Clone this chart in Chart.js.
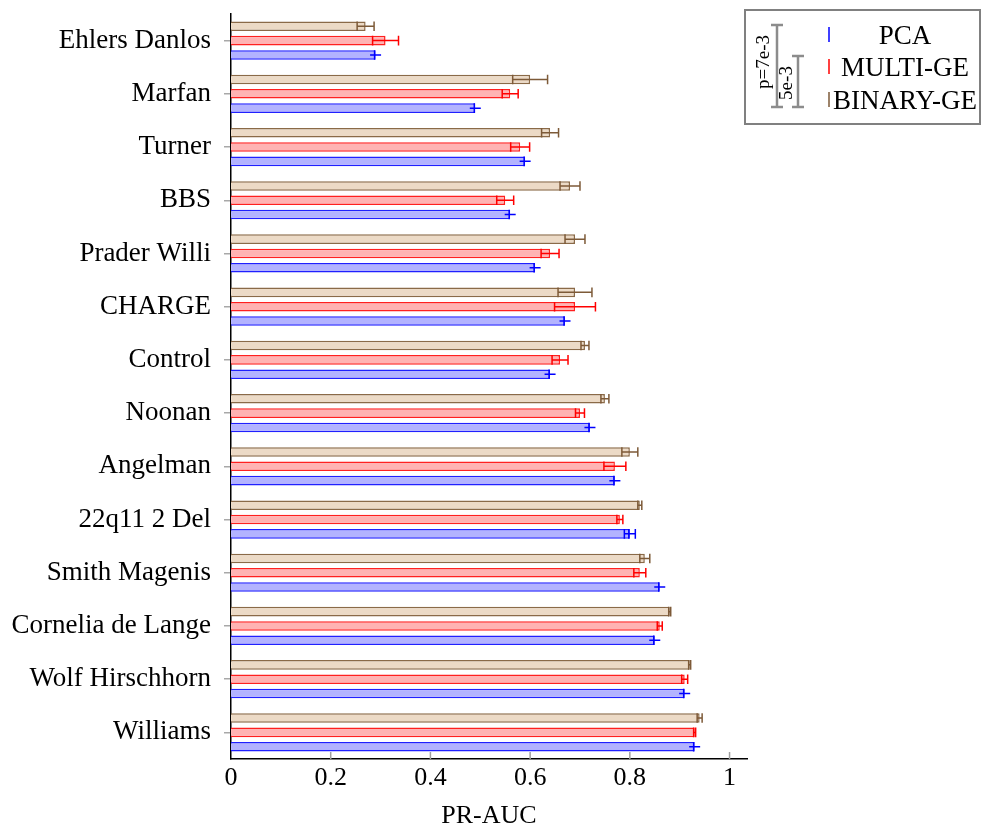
<!DOCTYPE html>
<html>
<head>
<meta charset="utf-8">
<script src="https://cdn.jsdelivr.net/npm/chart.js@4/dist/chart.umd.min.js"></script>
<style>
  html, body { margin: 0; padding: 0; background: #fff; }
  canvas { display: block; }
</style>
</head>
<body>
<canvas id="myChart" width="982" height="827"></canvas>
<script>
// syndromes, top to bottom
const categories = ["Ehlers Danlos", "Marfan", "Turner", "BBS", "Prader Willi", "CHARGE", "Control",
  "Noonan", "Angelman", "22q11 2 Del", "Smith Magenis", "Cornelia de Lange", "Wolf Hirschhorn", "Williams"];

const pcaValues    = [0.29, 0.49, 0.59, 0.56, 0.61, 0.67, 0.64, 0.72, 0.77, 0.80, 0.86, 0.85, 0.91, 0.93];
const pcaErrors    = [0.003, 0.003, 0.003, 0.003, 0.003, 0.003, 0.003, 0.003, 0.003, 0.011, 0.003, 0.003, 0.003, 0.003];
const multiValues  = [0.31, 0.56, 0.58, 0.55, 0.64, 0.69, 0.66, 0.70, 0.77, 0.78, 0.82, 0.86, 0.91, 0.93];
const multiErrors  = [0.026, 0.016, 0.019, 0.017, 0.018, 0.041, 0.016, 0.009, 0.022, 0.006, 0.012, 0.005, 0.006, 0.002];
const binaryValues = [0.27, 0.60, 0.64, 0.68, 0.69, 0.69, 0.71, 0.75, 0.80, 0.82, 0.83, 0.88, 0.92, 0.94];
const binaryErrors = [0.017, 0.035, 0.017, 0.020, 0.020, 0.034, 0.008, 0.008, 0.016, 0.004, 0.010, 0.002, 0.002, 0.005];

const xTicks = [0, 0.2, 0.4, 0.6, 0.8, 1];

const serif = '"Liberation Serif", "Times New Roman", serif';

// error bars, drawn through the x scale
const errorBars = {
    id: 'errorBars',
    afterDatasetsDraw(chart) {
        const ctx = chart.ctx;
        const xs = chart.scales.x;
        chart.data.datasets.forEach((ds, i) => {
            const meta = chart.getDatasetMeta(i);
            ctx.save();
            ctx.strokeStyle = ds.errorColor;
            ctx.lineWidth = 1.5;
            meta.data.forEach((bar, j) => {
                const v = ds.data[j], e = ds.errors[j];
                const lo = xs.getPixelForValue(v - e);
                const hi = xs.getPixelForValue(v + e);
                const h = bar.height / 2;
                ctx.beginPath();
                ctx.moveTo(lo, bar.y); ctx.lineTo(hi, bar.y);
                // tiny blue errors only show the '+' mark
                if (!ds.plusMark || hi - lo > 8) {
                    ctx.moveTo(lo, bar.y - h); ctx.lineTo(lo, bar.y + h);
                    ctx.moveTo(hi, bar.y - h); ctx.lineTo(hi, bar.y + h);
                }
                if (ds.plusMark) {
                    const px = xs.getPixelForValue(v);
                    ctx.moveTo(px - 5.5, bar.y); ctx.lineTo(px + 5.5, bar.y);
                    ctx.moveTo(px - 1, bar.y - h); ctx.lineTo(px - 1, bar.y + h);
                }
                ctx.stroke();
            });
            ctx.restore();
        });
    }
};

// x ticks point inwards
const innerTicks = {
    id: 'innerTicks',
    afterDraw(chart) {
        const ctx = chart.ctx;
        const xs = chart.scales.x;
        const bottom = chart.chartArea.bottom;
        ctx.save();
        ctx.strokeStyle = '#a0a0a0';
        ctx.lineWidth = 1.5;
        xTicks.forEach(t => {
            if (t === 0) return;
            const px = xs.getPixelForValue(t);
            ctx.beginPath();
            ctx.moveTo(px, bottom);
            ctx.lineTo(px, bottom - 7);
            ctx.stroke();
        });
        ctx.restore();
    }
};

// legend box with the p-value brackets
const legendBox = {
    id: 'legendBox',
    afterDraw(chart) {
        const ctx = chart.ctx;
        ctx.save();
        ctx.fillStyle = '#fff';
        ctx.strokeStyle = '#808080';
        ctx.lineWidth = 2;
        ctx.fillRect(745, 10, 235, 114);
        ctx.strokeRect(745, 10, 235, 114);

        // brackets
        ctx.strokeStyle = '#8c8c8c';
        ctx.lineWidth = 2.5;
        ctx.beginPath();
        ctx.moveTo(777, 25); ctx.lineTo(777, 107);
        ctx.moveTo(771, 25); ctx.lineTo(783, 25);
        ctx.moveTo(771, 107); ctx.lineTo(783, 107);
        ctx.moveTo(798, 56); ctx.lineTo(798, 107);
        ctx.moveTo(792, 56); ctx.lineTo(804, 56);
        ctx.moveTo(792, 107); ctx.lineTo(804, 107);
        ctx.stroke();

        ctx.fillStyle = '#000';
        ctx.font = '19px ' + serif;
        ctx.textAlign = 'center';
        ctx.textBaseline = 'middle';
        ctx.save();
        ctx.translate(764, 62); ctx.rotate(-Math.PI / 2);
        ctx.fillText('p=7e-3', 0, 0);
        ctx.restore();
        ctx.save();
        ctx.translate(787, 83); ctx.rotate(-Math.PI / 2);
        ctx.fillText('5e-3', 0, 0);
        ctx.restore();

        // entries: PCA, MULTI-GE, BINARY-GE
        const entries = chart.data.datasets.slice().reverse();
        const rowsY = [36, 68, 101];
        ctx.font = '27px ' + serif;
        entries.forEach((ds, k) => {
            const y = rowsY[k];
            ctx.strokeStyle = ds.errorColor;
            ctx.lineWidth = 1.5;
            ctx.beginPath();
            ctx.moveTo(829, y - 9); ctx.lineTo(829, y + 6);
            ctx.stroke();
            ctx.fillStyle = '#000';
            ctx.fillText(ds.label, 905, y + 1);
        });
        ctx.restore();
    }
};

new Chart(document.getElementById('myChart').getContext('2d'), {
    type: 'bar',
    data: {
        labels: categories,
        datasets: [
            {
                label: 'BINARY-GE',
                data: binaryValues,
                errors: binaryErrors,
                backgroundColor: '#ecdac6',
                borderColor: '#8a6a48',
                errorColor: '#7d5a38',
                borderWidth: 1.5
            },
            {
                label: 'MULTI-GE',
                data: multiValues,
                errors: multiErrors,
                backgroundColor: '#ffb3b3',
                borderColor: '#ff2020',
                errorColor: '#ff0000',
                borderWidth: 1.5
            },
            {
                label: 'PCA',
                data: pcaValues,
                errors: pcaErrors,
                plusMark: true,
                backgroundColor: '#b3b3ff',
                borderColor: '#2020ff',
                errorColor: '#0000ff',
                borderWidth: 1.5
            }
        ]
    },
    options: {
        indexAxis: 'y',
        responsive: false,
        animation: false,
        categoryPercentage: 0.807,
        barPercentage: 0.67,
        layout: { padding: { top: 14, right: 235, bottom: 0, left: 0 } },
        plugins: {
            legend: { display: false },
            tooltip: { enabled: false }
        },
        scales: {
            x: {
                type: 'linear',
                min: 0,
                max: 1.035,
                afterBuildTicks: axis => { axis.ticks = xTicks.map(v => ({ value: v })); },
                afterFit: axis => { axis.height = 68; axis.paddingLeft = 0; axis.paddingRight = 0; },
                grid: { display: false, drawTicks: false },
                border: { display: true, color: '#000', width: 1.5 },
                ticks: {
                    color: '#000',
                    padding: 4,
                    maxRotation: 0,
                    font: { family: serif, size: 26 },
                    callback: v => String(v)
                },
                title: {
                    display: true,
                    text: 'PR-AUC',
                    color: '#000',
                    font: { family: serif, size: 26, lineHeight: 0.85 },
                    padding: { top: 0, bottom: 0 }
                }
            },
            y: {
                afterFit: axis => { axis.width = 231; axis.paddingTop = 0; axis.paddingBottom = 0; },
                grid: { drawOnChartArea: false, offset: false, tickLength: 7, color: '#a8a8a8', lineWidth: 1.5 },
                border: { display: true, color: '#000', width: 1.5 },
                ticks: {
                    color: '#000',
                    padding: 13,
                    autoSkip: false,
                    font: { family: serif, size: 27 }
                }
            }
        }
    },
    plugins: [errorBars, innerTicks, legendBox]
});
</script>
</body>
</html>
